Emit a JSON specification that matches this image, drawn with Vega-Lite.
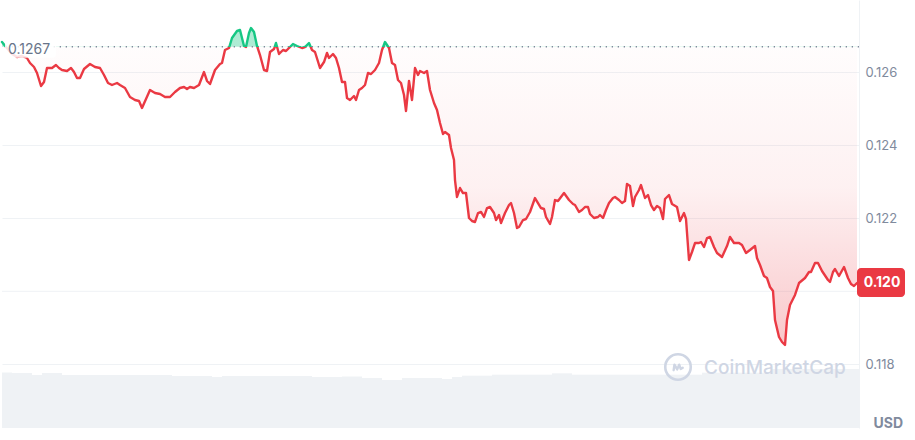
{
  "$schema": "https://vega.github.io/schema/vega-lite/v6.json",
  "width": 857,
  "height": 428,
  "padding": 0,
  "background": "white",
  "config": {"view": {"stroke": null}, "font": "Inter"},
  "datasets": {
    "price": [
      {"t":0,"p":0.126830},{"t":4,"p":0.126693},{"t":10,"p":0.126501},{"t":15,"p":0.126419},{"t":20,"p":0.126447},{"t":25,"p":0.126392},{"t":28,"p":0.126255},{"t":32,"p":0.126145},{"t":35,"p":0.125981},{"t":39,"p":0.125625},{"t":42,"p":0.125734},{"t":45,"p":0.126118},{"t":50,"p":0.126118},{"t":54,"p":0.126200},{"t":57,"p":0.126118},{"t":60,"p":0.126063},{"t":65,"p":0.126036},{"t":69,"p":0.126118},{"t":72,"p":0.126008},{"t":75,"p":0.125844},{"t":78,"p":0.125844},{"t":82,"p":0.126090},{"t":88,"p":0.126227},{"t":93,"p":0.126145},{"t":98,"p":0.126118},{"t":102,"p":0.125926},{"t":106,"p":0.125707},{"t":110,"p":0.125652},{"t":115,"p":0.125707},{"t":118,"p":0.125652},{"t":123,"p":0.125570},{"t":128,"p":0.125323},{"t":133,"p":0.125241},{"t":137,"p":0.125214},{"t":140,"p":0.125022},{"t":144,"p":0.125268},{"t":148,"p":0.125515},{"t":153,"p":0.125433},{"t":158,"p":0.125405},{"t":163,"p":0.125323},{"t":168,"p":0.125323},{"t":173,"p":0.125460},{"t":178,"p":0.125570},{"t":182,"p":0.125597},{"t":185,"p":0.125542},{"t":188,"p":0.125597},{"t":192,"p":0.125570},{"t":197,"p":0.125652},{"t":202,"p":0.126008},{"t":205,"p":0.125762},{"t":208,"p":0.125679},{"t":213,"p":0.126063},{"t":218,"p":0.126227},{"t":220,"p":0.126255},{"t":223,"p":0.126611},{"t":227,"p":0.126666},{"t":230,"p":0.126940},{"t":235,"p":0.127132},{"t":238,"p":0.127159},{"t":242,"p":0.126721},{"t":244,"p":0.126693},{"t":247,"p":0.127077},{"t":249,"p":0.127214},{"t":252,"p":0.127104},{"t":255,"p":0.126721},{"t":258,"p":0.126474},{"t":262,"p":0.126063},{"t":265,"p":0.126036},{"t":268,"p":0.126556},{"t":272,"p":0.126638},{"t":274,"p":0.126803},{"t":277,"p":0.126501},{"t":281,"p":0.126611},{"t":284,"p":0.126584},{"t":287,"p":0.126666},{"t":291,"p":0.126775},{"t":295,"p":0.126721},{"t":300,"p":0.126666},{"t":303,"p":0.126693},{"t":307,"p":0.126803},{"t":310,"p":0.126611},{"t":313,"p":0.126556},{"t":318,"p":0.126118},{"t":322,"p":0.126282},{"t":325,"p":0.126529},{"t":327,"p":0.126392},{"t":331,"p":0.126501},{"t":334,"p":0.126392},{"t":337,"p":0.126118},{"t":340,"p":0.125734},{"t":343,"p":0.125734},{"t":345,"p":0.125296},{"t":348,"p":0.125241},{"t":352,"p":0.125351},{"t":354,"p":0.125241},{"t":357,"p":0.125515},{"t":360,"p":0.125570},{"t":363,"p":0.125652},{"t":366,"p":0.125981},{"t":369,"p":0.125953},{"t":373,"p":0.126063},{"t":377,"p":0.126255},{"t":380,"p":0.126611},{"t":383,"p":0.126830},{"t":387,"p":0.126666},{"t":390,"p":0.126255},{"t":393,"p":0.126200},{"t":396,"p":0.125789},{"t":399,"p":0.125707},{"t":402,"p":0.125378},{"t":404,"p":0.124940},{"t":407,"p":0.125762},{"t":410,"p":0.125241},{"t":413,"p":0.126118},{"t":416,"p":0.125926},{"t":418,"p":0.126036},{"t":422,"p":0.125981},{"t":425,"p":0.126036},{"t":428,"p":0.125515},{"t":432,"p":0.125159},{"t":435,"p":0.124967},{"t":438,"p":0.124611},{"t":441,"p":0.124310},{"t":443,"p":0.124364},{"t":447,"p":0.124282},{"t":449,"p":0.123926},{"t":452,"p":0.123597},{"t":453,"p":0.123049},{"t":455,"p":0.122584},{"t":458,"p":0.122830},{"t":461,"p":0.122693},{"t":464,"p":0.122693},{"t":467,"p":0.122008},{"t":470,"p":0.121926},{"t":473,"p":0.121899},{"t":476,"p":0.122145},{"t":479,"p":0.122173},{"t":482,"p":0.122036},{"t":485,"p":0.122282},{"t":488,"p":0.122310},{"t":492,"p":0.122145},{"t":494,"p":0.121953},{"t":497,"p":0.122090},{"t":499,"p":0.121871},{"t":503,"p":0.122145},{"t":507,"p":0.122364},{"t":509,"p":0.122419},{"t":512,"p":0.122145},{"t":515,"p":0.121734},{"t":517,"p":0.121762},{"t":521,"p":0.121953},{"t":524,"p":0.121981},{"t":528,"p":0.122173},{"t":533,"p":0.122556},{"t":536,"p":0.122419},{"t":539,"p":0.122282},{"t":542,"p":0.122255},{"t":544,"p":0.122036},{"t":548,"p":0.121844},{"t":550,"p":0.122036},{"t":553,"p":0.122501},{"t":556,"p":0.122474},{"t":562,"p":0.122693},{"t":567,"p":0.122501},{"t":571,"p":0.122392},{"t":573,"p":0.122364},{"t":577,"p":0.122173},{"t":580,"p":0.122227},{"t":583,"p":0.122310},{"t":586,"p":0.122310},{"t":588,"p":0.122118},{"t":592,"p":0.122008},{"t":596,"p":0.122036},{"t":598,"p":0.122090},{"t":601,"p":0.122008},{"t":604,"p":0.122227},{"t":607,"p":0.122419},{"t":611,"p":0.122556},{"t":613,"p":0.122584},{"t":617,"p":0.122501},{"t":620,"p":0.122419},{"t":623,"p":0.122474},{"t":625,"p":0.122940},{"t":628,"p":0.122885},{"t":631,"p":0.122337},{"t":633,"p":0.122584},{"t":637,"p":0.122775},{"t":639,"p":0.122912},{"t":643,"p":0.122556},{"t":646,"p":0.122638},{"t":649,"p":0.122364},{"t":652,"p":0.122227},{"t":655,"p":0.122337},{"t":658,"p":0.122282},{"t":661,"p":0.121981},{"t":663,"p":0.122529},{"t":667,"p":0.122638},{"t":670,"p":0.122392},{"t":675,"p":0.122310},{"t":678,"p":0.121926},{"t":682,"p":0.122145},{"t":684,"p":0.121981},{"t":687,"p":0.120858},{"t":690,"p":0.121077},{"t":693,"p":0.121323},{"t":697,"p":0.121323},{"t":699,"p":0.121351},{"t":702,"p":0.121214},{"t":705,"p":0.121460},{"t":708,"p":0.121488},{"t":712,"p":0.121214},{"t":715,"p":0.121049},{"t":720,"p":0.120940},{"t":725,"p":0.121241},{"t":728,"p":0.121488},{"t":732,"p":0.121323},{"t":737,"p":0.121323},{"t":740,"p":0.121268},{"t":744,"p":0.121049},{"t":748,"p":0.121132},{"t":753,"p":0.121241},{"t":755,"p":0.120912},{"t":758,"p":0.120721},{"t":762,"p":0.120419},{"t":765,"p":0.120364},{"t":768,"p":0.120118},{"t":771,"p":0.120008},{"t":773,"p":0.119214},{"t":777,"p":0.118748},{"t":780,"p":0.118611},{"t":783,"p":0.118529},{"t":785,"p":0.119214},{"t":788,"p":0.119625},{"t":793,"p":0.119899},{"t":797,"p":0.120227},{"t":803,"p":0.120364},{"t":807,"p":0.120529},{"t":809,"p":0.120529},{"t":813,"p":0.120775},{"t":816,"p":0.120775},{"t":820,"p":0.120556},{"t":826,"p":0.120310},{"t":828,"p":0.120255},{"t":831,"p":0.120529},{"t":833,"p":0.120611},{"t":837,"p":0.120419},{"t":842,"p":0.120666},{"t":846,"p":0.120364},{"t":849,"p":0.120200},{"t":852,"p":0.120145},{"t":855,"p":0.120227}
    ],
    "volume": [
      {"t":5,"vol":55.5},{"t":15,"vol":55},{"t":25,"vol":55},{"t":35,"vol":53},{"t":45,"vol":55},{"t":55,"vol":55},{"t":65,"vol":53},{"t":75,"vol":53},{"t":85,"vol":53},{"t":95,"vol":53},{"t":105,"vol":53},{"t":115,"vol":53},{"t":125,"vol":53},{"t":135,"vol":53},{"t":145,"vol":53},{"t":155,"vol":53},{"t":165,"vol":53},{"t":175,"vol":52},{"t":185,"vol":52},{"t":195,"vol":52},{"t":205,"vol":52},{"t":215,"vol":51},{"t":225,"vol":52},{"t":235,"vol":52},{"t":245,"vol":52},{"t":255,"vol":52},{"t":265,"vol":52},{"t":275,"vol":52},{"t":285,"vol":52},{"t":295,"vol":52},{"t":305,"vol":52},{"t":315,"vol":51},{"t":325,"vol":51},{"t":335,"vol":51},{"t":345,"vol":51.5},{"t":355,"vol":51.5},{"t":365,"vol":50},{"t":375,"vol":50},{"t":385,"vol":48},{"t":395,"vol":48},{"t":405,"vol":50},{"t":415,"vol":50},{"t":425,"vol":50},{"t":435,"vol":50},{"t":445,"vol":49},{"t":455,"vol":51},{"t":465,"vol":52.3},{"t":475,"vol":52.3},{"t":485,"vol":52.3},{"t":495,"vol":53.3},{"t":505,"vol":53.3},{"t":515,"vol":53.3},{"t":525,"vol":53.3},{"t":535,"vol":53.3},{"t":545,"vol":53.3},{"t":555,"vol":54.7},{"t":565,"vol":54.7},{"t":575,"vol":53.3},{"t":585,"vol":53.3},{"t":595,"vol":53.3},{"t":605,"vol":53.3},{"t":615,"vol":53.3},{"t":625,"vol":53.3},{"t":635,"vol":53.3},{"t":645,"vol":53.3},{"t":655,"vol":53.3},{"t":665,"vol":53.3},{"t":675,"vol":53.3},{"t":685,"vol":53.3},{"t":695,"vol":53.3},{"t":705,"vol":55.3},{"t":715,"vol":55.3},{"t":725,"vol":55.3},{"t":735,"vol":55.3},{"t":745,"vol":55.3},{"t":755,"vol":55.3},{"t":765,"vol":55.3},{"t":775,"vol":59},{"t":785,"vol":59},{"t":795,"vol":59},{"t":805,"vol":59},{"t":815,"vol":59},{"t":825,"vol":59},{"t":835,"vol":59},{"t":845,"vol":59},{"t":855,"vol":59}
    ]
  },
  "layer": [
    {
      "data": {"name": "volume"},
      "mark": {"type": "rect", "color": "#eff2f5", "clip": true, "xOffset": -5, "x2Offset": 5},
      "encoding": {
        "x": {"field": "t", "type": "quantitative", "scale": {"domain": [0, 857], "nice": false, "zero": false}, "axis": null},
        "x2": {"field": "t"},
        "y": {"field": "vol", "type": "quantitative", "scale": {"domain": [0, 428], "nice": false}, "axis": null},
        "y2": {"datum": 0}
      }
    },
    {
      "layer": [
        {
          "data": {"values": [{"p": 0.12}]},
          "mark": {"type": "rule", "color": "#eff2f5", "strokeWidth": 1},
          "encoding": {
            "y": {"field": "p", "type": "quantitative", "scale": {"domain": [0.116255, 0.127981], "nice": false, "zero": false}}
          }
        },
        {
          "data": {"name": "price"},
          "mark": {
            "type": "area",
            "color": {
              "gradient": "linear", "x1": 0, "y1": 0, "x2": 0, "y2": 1,
              "stops": [
                {"offset": 0, "color": "rgba(22,199,132,0.35)"},
                {"offset": 0.0592, "color": "rgba(22,199,132,0.35)"},
                {"offset": 0.0592, "color": "rgba(234,57,67,0.01)"},
                {"offset": 0.5, "color": "rgba(234,57,67,0.07)"},
                {"offset": 1, "color": "rgba(234,57,67,0.28)"}
              ]
            }
          },
          "encoding": {
            "x": {"field": "t", "type": "quantitative", "scale": {"domain": [0, 857], "nice": false, "zero": false}, "axis": null},
            "y": {"field": "p", "type": "quantitative", "scale": {"domain": [0.116255, 0.127981], "nice": false, "zero": false},
              "axis": {
                "orient": "right", "values": [0.118, 0.122, 0.124, 0.126], "format": ".3f",
                "grid": true, "gridColor": "#eff2f5", "gridWidth": 1,
                "ticks": false, "domain": true, "domainColor": "#eff2f5",
                "labelColor": "#808a9d", "labelFontSize": 13, "labelPadding": 6, "labelFont": "Inter",
                "title": "USD", "titleAngle": 0, "titleAlign": "left", "titleBaseline": "alphabetic",
                "titleX": 14, "titleY": 427, "titleFontSize": 14, "titleFontWeight": "bold",
                "titleColor": "#808a9d", "titleFont": "Inter"
              }
            },
            "y2": {"datum": 0.1267}
          }
        },
        {
          "data": {"values": [{"p": 0.1267}]},
          "mark": {"type": "rule", "color": "#808a9d", "strokeWidth": 1.3, "strokeDash": [1.3, 4.7]},
          "encoding": {
            "y": {"field": "p", "type": "quantitative", "scale": {"domain": [0.116255, 0.127981], "nice": false, "zero": false}}
          }
        },
        {
          "data": {"name": "price"},
          "mark": {
            "type": "line", "strokeWidth": 2.4, "strokeJoin": "round", "strokeCap": "round",
            "stroke": {
              "gradient": "linear", "x1": 0, "y1": 0, "x2": 0, "y2": 1,
              "stops": [
                {"offset": 0, "color": "#16c784"},
                {"offset": 0.0592, "color": "#16c784"},
                {"offset": 0.0592, "color": "#ea3943"},
                {"offset": 1, "color": "#ea3943"}
              ]
            }
          },
          "encoding": {
            "x": {"field": "t", "type": "quantitative", "scale": {"domain": [0, 857], "nice": false, "zero": false}},
            "y": {"field": "p", "type": "quantitative", "scale": {"domain": [0.116255, 0.127981], "nice": false, "zero": false}}
          }
        },
        {
          "data": {"values": [{"t": 0, "p": 0.1267, "label": "0.1267"}]},
          "mark": {"type": "rect", "color": "white", "opacity": 0.85, "cornerRadius": 3, "xOffset": 3, "x2Offset": 54, "yOffset": -9, "y2Offset": 11},
          "encoding": {
            "x": {"field": "t", "type": "quantitative", "scale": {"domain": [0, 857], "nice": false, "zero": false}},
            "x2": {"field": "t"},
            "y": {"field": "p", "type": "quantitative", "scale": {"domain": [0.116255, 0.127981], "nice": false, "zero": false}},
            "y2": {"field": "p"}
          }
        },
        {
          "data": {"values": [{"t": 0, "p": 0.1267, "label": "0.1267"}]},
          "mark": {"type": "text", "align": "left", "baseline": "middle", "dx": 6, "dy": 3, "fontSize": 14, "font": "Inter", "color": "#687489"},
          "encoding": {
            "x": {"field": "t", "type": "quantitative", "scale": {"domain": [0, 857], "nice": false, "zero": false}},
            "y": {"field": "p", "type": "quantitative", "scale": {"domain": [0.116255, 0.127981], "nice": false, "zero": false}},
            "text": {"field": "label"}
          }
        },
        {
          "data": {"values": [{"t": 855, "p": 0.120227, "label": "0.120"}]},
          "mark": {"type": "rect", "color": "#ea3943", "cornerRadius": 4, "xOffset": 0, "x2Offset": 48, "yOffset": -15, "y2Offset": 14},
          "encoding": {
            "x": {"field": "t", "type": "quantitative", "scale": {"domain": [0, 857], "nice": false, "zero": false}},
            "x2": {"field": "t"},
            "y": {"field": "p", "type": "quantitative", "scale": {"domain": [0.116255, 0.127981], "nice": false, "zero": false}},
            "y2": {"field": "p"}
          }
        },
        {
          "data": {"values": [{"t": 855, "p": 0.120227, "label": "0.120"}]},
          "mark": {"type": "text", "align": "center", "baseline": "middle", "dx": 25, "dy": 0, "fontSize": 14, "fontWeight": "bold", "font": "Inter", "color": "white"},
          "encoding": {
            "x": {"field": "t", "type": "quantitative", "scale": {"domain": [0, 857], "nice": false, "zero": false}},
            "y": {"field": "p", "type": "quantitative", "scale": {"domain": [0.116255, 0.127981], "nice": false, "zero": false}},
            "text": {"field": "label"}
          }
        },
        {
          "data": {"values": [{"t": 702, "p": 0.117899, "label": "CoinMarketCap"}]},
          "mark": {"type": "text", "align": "left", "baseline": "middle", "fontSize": 19, "fontWeight": 500, "font": "Inter", "color": "#cfd6e4"},
          "encoding": {
            "x": {"field": "t", "type": "quantitative", "scale": {"domain": [0, 857], "nice": false, "zero": false}},
            "y": {"field": "p", "type": "quantitative", "scale": {"domain": [0.116255, 0.127981], "nice": false, "zero": false}},
            "text": {"field": "label"}
          }
        },
        {
          "data": {"values": [{"t": 676, "p": 0.117926}]},
          "mark": {"type": "point", "shape": "circle", "size": 650, "filled": false, "stroke": "#cfd6e4", "strokeWidth": 2.6, "opacity": 1},
          "encoding": {
            "x": {"field": "t", "type": "quantitative", "scale": {"domain": [0, 857], "nice": false, "zero": false}},
            "y": {"field": "p", "type": "quantitative", "scale": {"domain": [0.116255, 0.127981], "nice": false, "zero": false}}
          }
        },
        {
          "data": {"values": [{"t": 676, "p": 0.117926}]},
          "mark": {"type": "point", "shape": "M -0.55 0.4 L -0.45 -0.3 L -0.1 0.3 L 0.15 -0.3 L 0.35 0.25 L 0.6 0.1", "size": 250, "filled": false, "stroke": "#cfd6e4", "strokeWidth": 2.4, "strokeJoin": "round", "strokeCap": "round", "opacity": 1},
          "encoding": {
            "x": {"field": "t", "type": "quantitative", "scale": {"domain": [0, 857], "nice": false, "zero": false}},
            "y": {"field": "p", "type": "quantitative", "scale": {"domain": [0.116255, 0.127981], "nice": false, "zero": false}}
          }
        }
      ]
    }
  ],
  "resolve": {"scale": {"y": "independent"}, "axis": {"y": "independent"}}
}
